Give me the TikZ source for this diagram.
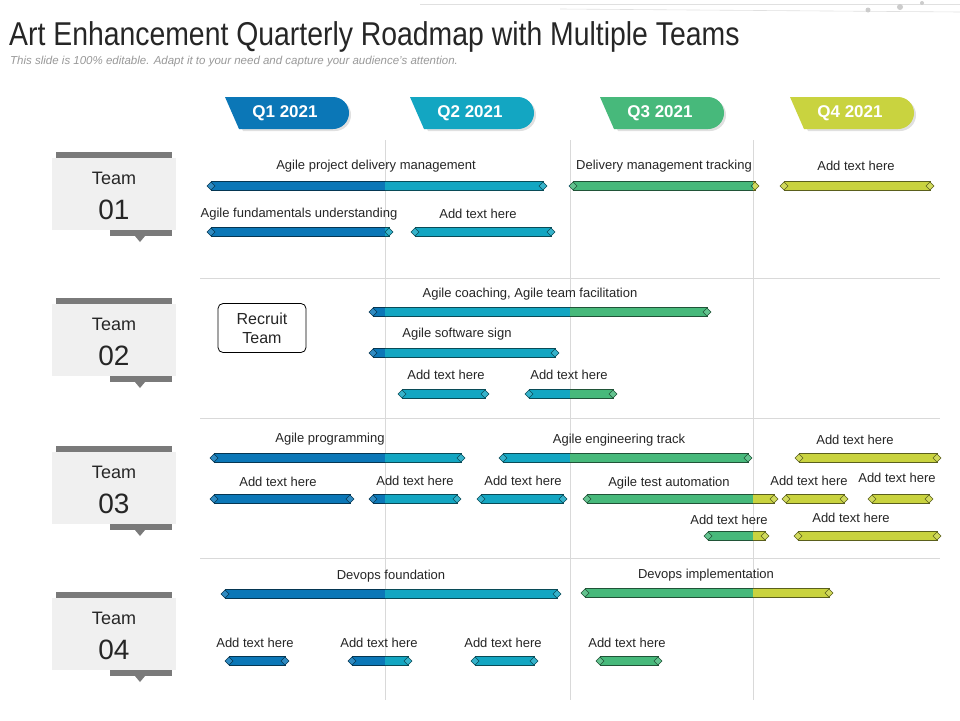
\documentclass[tikz,border=0pt]{standalone}
\usepackage{fontspec}
\setmainfont{Liberation Sans}
\newfontfamily\narrowf[FakeStretch=0.86]{Liberation Sans}
\definecolor{cA}{HTML}{0B77B7}
\definecolor{cB}{HTML}{13A6C2}
\definecolor{cC}{HTML}{47B97B}
\definecolor{cD}{HTML}{C9D33F}
\newcounter{lblc}
\tikzset{lbl/.style={font=\fontsize{13}{15}\selectfont,inner sep=0pt,text=black!85},
 qtxt/.style={font=\fontsize{17}{19}\selectfont\bfseries,text=white,inner sep=0pt},
 grid/.style={draw=black!15,line width=0.6pt}}
\newcommand\rbar[6]{%
 \foreach \qa/\qb/\qc in {0/385/cA,385/570/cB,570/753/cC,753/960/cD}{%
  \begin{scope}
   \clip (\qa,0) rectangle (\qb,720);
   \filldraw[fill=\qc,draw=\qc!45!black,line width=0.6pt] ({#1+3},{#3-4.5}) rectangle ({#2-3},{#3+4.5});
   \filldraw[fill=\qc!85!white,draw=\qc!45!black,line width=0.5pt] ({#1-1},#3) -- ({#1+3},{#3-4}) -- ({#1+7},#3) -- ({#1+3},{#3+4}) -- cycle;
   \filldraw[fill=\qc!85!white,draw=\qc!45!black,line width=0.5pt] ({#2+1},#3) -- ({#2-3},{#3-4}) -- ({#2-7},#3) -- ({#2-3},{#3+4}) -- cycle;
  \end{scope}}%
 \stepcounter{lblc}%
 \node[lbl] (lbl\thelblc) at (#4,#5) {#6};%
}
\newcommand\team[2]{%
 \fill[black!52] (56,#1) rectangle (172,{#1+6});
 \fill[black!6] (52,{#1+6}) rectangle (176,{#1+78});
 \fill[black!52] (110,{#1+78}) rectangle (172,{#1+84});
 \fill[black!52] (135,{#1+84}) -- (145,{#1+84}) -- (140,{#1+90}) -- cycle;
 \node[font=\fontsize{18}{20}\selectfont,text=black!85,inner sep=0pt] (tt#2) at (114,{#1+26}) {Team};
 \node[font=\fontsize{28}{30}\selectfont,text=black!85,inner sep=0pt] (tn#2) at (114,{#1+58}) {#2};
}
\newcommand\qtab[4]{%
 \fill[black!12] ({#1+4},99) -- ({#1+110},99) arc[start angle=-90,end angle=90,radius=16] -- ({#1+18},131) -- cycle;
 \fill[#2] (#1,97) -- ({#1+108},97) arc[start angle=-90,end angle=90,radius=16] -- ({#1+14},129) -- cycle;
 \node[qtxt] (#4) at ({#1+60},113) {#3};
}
\begin{document}
\begin{tikzpicture}[x=1pt,y=-1pt]
\useasboundingbox (0,0) rectangle (960,720);
\fill[white] (0,0) rectangle (960,720);
% top decoration
\draw[black!12,line width=0.6pt] (420,4) -- (960,4);
\draw[black!12,line width=0.6pt] (560,9) -- (960,12);
\fill[black!20] (868,10) circle (2.5) (900,7) circle (3) (922,3) circle (2);
% title
\node[anchor=west,inner sep=0pt,font=\narrowf\fontsize{33}{36}\selectfont,text=black!85] (title) at (9,37) {Art Enhancement Quarterly Roadmap with Multiple Teams};
\node[anchor=west,inner sep=0pt,font=\itshape\fontsize{11.5}{13}\selectfont,text=black!40] (sub) at (10,62) {This slide is 100\% editable. Adapt it to your need and capture your audience's attention.};
% grid
\draw[grid] (385,140) -- (385,700);
\draw[grid] (570,140) -- (570,700);
\draw[grid] (753,140) -- (753,700);
\foreach \yy in {278,418,558} \draw[grid] (200,\yy) -- (940,\yy);
% tabs
\qtab{225}{cA}{Q1 2021}{q1}
\qtab{410}{cB}{Q2 2021}{q2}
\qtab{600}{cC}{Q3 2021}{q3}
\qtab{790}{cD}{Q4 2021}{q4}
% teams
\team{152}{01}
\team{298}{02}
\team{446}{03}
\team{592}{04}
\node[draw=black,line width=0.8pt,rounded corners=5pt,minimum width=88pt,minimum height=49pt,align=center,font=\fontsize{16}{19}\selectfont,text=black!85] (recruit) at (262,328) {Recruit\\Team};
% team 01
\rbar{208}{546}{186}{376}{166}{Agile project delivery management}
\rbar{208}{392}{232}{299}{214}{Agile fundamentals understanding}
\rbar{412}{554}{232}{478}{214}{Add text here}
\rbar{570}{758}{186}{664}{166}{Delivery management tracking}
\rbar{781}{933}{186}{856}{166}{Add text here}
% team 02
\rbar{370}{710}{312}{530}{294}{Agile coaching, Agile team facilitation}
\rbar{370}{558}{353}{457}{334}{Agile software sign}
\rbar{399}{488}{394}{446}{375}{Add text here}
\rbar{526}{616}{394}{569}{375}{Add text here}
% team 03
\rbar{211}{464}{458}{330}{439}{Agile programming}
\rbar{500}{751}{458}{619}{440}{Agile engineering track}
\rbar{796}{940}{458}{855}{440}{Add text here}
\rbar{211}{353}{499}{278}{482}{Add text here}
\rbar{370}{460}{499}{415}{481}{Add text here}
\rbar{478}{566}{499}{523}{481}{Add text here}
\rbar{584}{777}{499}{669}{483}{Agile test automation}
\rbar{783}{847}{499}{809}{481}{Add text here}
\rbar{869}{932}{499}{897}{478}{Add text here}
\rbar{705}{768}{536}{729}{520}{Add text here}
\rbar{795}{940}{536}{851}{518}{Add text here}
% team 04
\rbar{222}{560}{594}{391}{576}{Devops foundation}
\rbar{582}{832}{593}{706}{575}{Devops implementation}
\rbar{226}{288}{661}{255}{643}{Add text here}
\rbar{349}{411}{661}{379}{643}{Add text here}
\rbar{472}{537}{661}{503}{643}{Add text here}
\rbar{597}{661}{661}{627}{643}{Add text here}
\end{tikzpicture}
\end{document}
